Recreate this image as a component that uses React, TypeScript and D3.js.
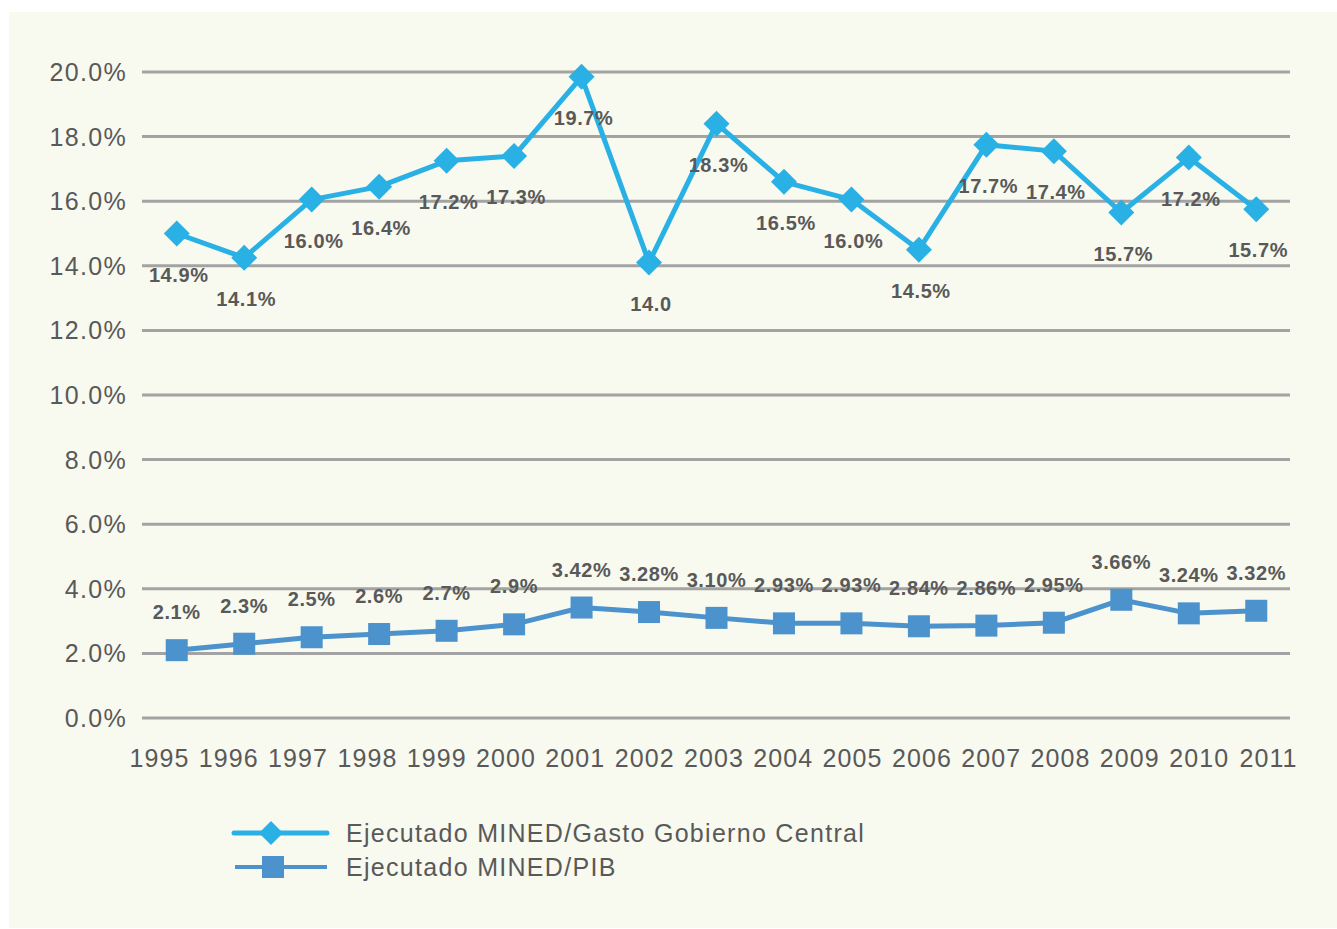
import * as d3 from "d3";

const years = ["1995", "1996", "1997", "1998", "1999", "2000", "2001", "2002", "2003", "2004", "2005", "2006", "2007", "2008", "2009", "2010", "2011"];

// Ejecutado MINED / Gasto Gobierno Central (%)
const gastoValues = [15.0, 14.25, 16.05, 16.45, 17.25, 17.4, 19.85, 14.1, 18.4, 16.6, 16.05, 14.5, 17.75, 17.55, 15.65, 17.35, 15.75];
const gastoLabels = ["14.9%", "14.1%", "16.0%", "16.4%", "17.2%", "17.3%", "19.7%", "14.0", "18.3%", "16.5%", "16.0%", "14.5%", "17.7%", "17.4%", "15.7%", "17.2%", "15.7%"];

// Ejecutado MINED / PIB (%)
const pibValues = [2.1, 2.3, 2.5, 2.6, 2.7, 2.9, 3.42, 3.28, 3.1, 2.93, 2.93, 2.84, 2.86, 2.95, 3.66, 3.24, 3.32];
const pibLabels = ["2.1%", "2.3%", "2.5%", "2.6%", "2.7%", "2.9%", "3.42%", "3.28%", "3.10%", "2.93%", "2.93%", "2.84%", "2.86%", "2.95%", "3.66%", "3.24%", "3.32%"];

const yTicks = [0, 2, 4, 6, 8, 10, 12, 14, 16, 18, 20];

const seriesNames = ["Ejecutado MINED/Gasto Gobierno Central", "Ejecutado MINED/PIB"];

const W = 1337;
const H = 929;
const FONT = "'Liberation Sans', Arial, Helvetica, sans-serif";
const TEXT = "#595959";
const C1 = "#29b1e6";
const C2 = "#4c92cd";

export default function App() {
  const x = d3.scaleBand<string>().domain(years).range([143, 1290]);
  const y = d3.scaleLinear().domain([0, 20]).range([718, 72]);
  const cx = (d: string) => (x(d) ?? 0) + x.bandwidth() / 2;
  // the year labels in the original are spread a little wider than the points
  const xLabel = d3.scalePoint<string>().domain(years).range([159, 1268]);

  const line1 = d3.line<number>().x((_, i) => cx(years[i])).y((d) => y(d));
  const line2 = d3.line<number>().x((_, i) => cx(years[i])).y((d) => y(d));

  const diamond = (r: number) => `M0,${-r}L${r},0L0,${r}L${-r},0Z`;

  return (
    <svg width={W} height={H} style={{ position: "absolute", left: 0, top: 0, fontFamily: FONT }}>
      <rect x={0} y={0} width={W} height={H} fill="#ffffff" />
      <rect x={9} y={12} width={W - 9} height={H - 13} fill="#f8f9ef" />

      {/* gridlines + y labels */}
      {yTicks.map((t) => (
        <g key={t}>
          <line x1={142} x2={1290} y1={y(t)} y2={y(t)} stroke="#a3a3a3" strokeWidth={3} />
          <text x={127} y={y(t) + 9} textAnchor="end" fontSize={25} letterSpacing={1.3} fill={TEXT}>
            {t.toFixed(1) + "%"}
          </text>
        </g>
      ))}

      {/* x labels */}
      {years.map((d) => (
        <text key={d} x={(xLabel(d) ?? 0) + 0.5} y={767} textAnchor="middle" fontSize={25} letterSpacing={1.1} fill={TEXT}>
          {d}
        </text>
      ))}

      {/* series 2: PIB */}
      <path d={line2(pibValues) ?? ""} fill="none" stroke={C2} strokeWidth={5} />
      {pibValues.map((v, i) => (
        <rect key={i} x={cx(years[i]) - 11} y={y(v) - 11} width={22} height={22} fill={C2} />
      ))}
      {pibValues.map((v, i) => (
        <text key={i} x={cx(years[i])} y={y(v) - 31} textAnchor="middle" fontSize={20} fontWeight="bold" letterSpacing={0.6} fill={TEXT}>
          {pibLabels[i]}
        </text>
      ))}

      {/* series 1: Gasto */}
      <path d={line1(gastoValues) ?? ""} fill="none" stroke={C1} strokeWidth={5} strokeLinejoin="round" />
      {gastoValues.map((v, i) => (
        <path key={i} d={diamond(13)} transform={`translate(${cx(years[i])},${y(v)})`} fill={C1} />
      ))}
      {gastoValues.map((v, i) => (
        <text key={i} x={cx(years[i]) + 2} y={y(v) + 48} textAnchor="middle" fontSize={20} fontWeight="bold" letterSpacing={0.6} fill={TEXT}>
          {gastoLabels[i]}
        </text>
      ))}

      {/* legend */}
      <g>
        <line x1={234} x2={327} y1={833} y2={833} stroke={C1} strokeWidth={5} strokeLinecap="round" />
        <path d={diamond(12)} transform="translate(271,833)" fill={C1} />
        <text x={346} y={842} fontSize={25} letterSpacing={1.3} fill={TEXT}>{seriesNames[0]}</text>
        <line x1={235} x2={327} y1={867} y2={867} stroke={C2} strokeWidth={4} />
        <rect x={262} y={856} width={22} height={22} fill={C2} />
        <text x={346} y={876} fontSize={25} letterSpacing={1.3} fill={TEXT}>{seriesNames[1]}</text>
      </g>
    </svg>
  );
}
